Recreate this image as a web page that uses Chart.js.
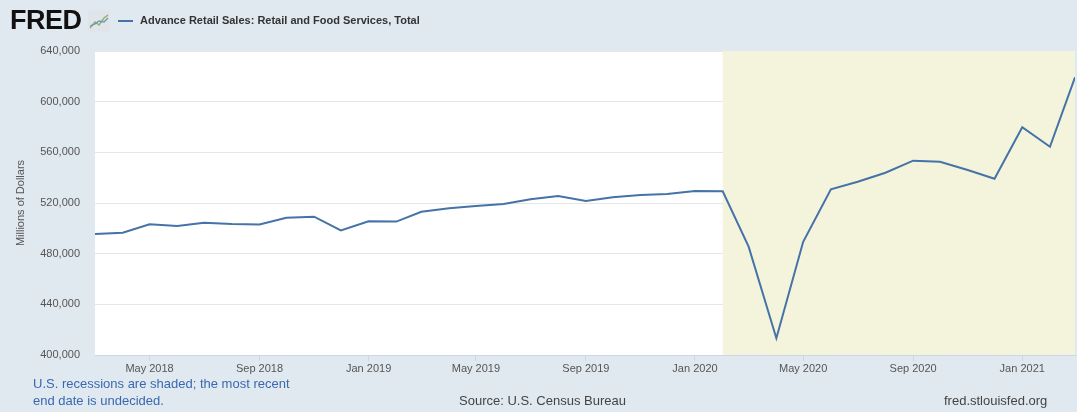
<!DOCTYPE html>
<html>
<head>
<meta charset="utf-8">
<script src="https://cdn.jsdelivr.net/npm/chart.js@4/dist/chart.umd.min.js"></script>
<style>
  body { margin: 0; background: #e1e9f0; font-family: "Liberation Sans", Arial, sans-serif; }
  #wrap { position: relative; width: 1077px; height: 412px; overflow: hidden; }
  canvas { position: absolute; left: 0; top: 0; }
  .txt { position: absolute; white-space: nowrap; }
  #logo { left: 10px; top: 5px; font-size: 27px; font-weight: bold; letter-spacing: -0.5px; color: #111; }
  #icon { left: 88px; top: 10px; }
  #legline { left: 118px; top: 20px; width: 15px; height: 2px; background: #4572a7; }
  #legtxt { left: 140px; top: 14px; font-size: 11px; font-weight: bold; color: #333; }
  .foot { font-size: 13px; }
  #rec1 { left: 33px; top: 376px; color: #3a68b0; }
  #rec2 { left: 33px; top: 393px; color: #3a68b0; }
  #src { left: 459px; top: 393px; color: #444; }
  #site { left: 944px; top: 393px; color: #444; }
</style>
</head>
<body>
<div id="wrap">
  <canvas id="chart" width="1077" height="412"></canvas>
  <div class="txt" id="logo">FRED</div>
  <svg class="txt" id="icon" width="22" height="22">
    <rect x="0" y="0" width="22" height="22" rx="2" fill="#dfe5ea"/>
    <polyline points="2,18 7,12 11,15 16,8 20,5" fill="none" stroke="#8fb36b" stroke-width="1.5"/>
    <polyline points="2,16 7,14 11,11 16,12 20,8" fill="none" stroke="#6f8fb8" stroke-width="1.2"/>
  </svg>
  <div class="txt" id="legline"></div>
  <div class="txt" id="legtxt">Advance Retail Sales: Retail and Food Services, Total</div>
  <div class="txt foot" id="rec1">U.S. recessions are shaded; the most recent</div>
  <div class="txt foot" id="rec2">end date is undecided.</div>
  <div class="txt foot" id="src">Source: U.S. Census Bureau</div>
  <div class="txt foot" id="site">fred.stlouisfed.org</div>
</div>
<script>
// =============================
// DATOS
// =============================
// meses: Mar 2018 .. Mar 2021
const meses = [
  "2018-03", "2018-04", "2018-05", "2018-06", "2018-07", "2018-08", "2018-09",
  "2018-10", "2018-11", "2018-12", "2019-01", "2019-02", "2019-03", "2019-04",
  "2019-05", "2019-06", "2019-07", "2019-08", "2019-09", "2019-10", "2019-11",
  "2019-12", "2020-01", "2020-02", "2020-03", "2020-04", "2020-05", "2020-06",
  "2020-07", "2020-08", "2020-09", "2020-10", "2020-11", "2020-12", "2021-01",
  "2021-02", "2021-03"
];

const ventas = [
  495500, 496600, 503200, 501800, 504500, 503400, 503100,
  508400, 509200, 498300, 505500, 505300, 513100, 515800,
  517600, 519200, 522900, 525500, 521600, 524500, 526300,
  527100, 529500, 529200, 485500, 413200, 489400, 530800,
  536800, 543900, 553400, 552600, 546000, 539200, 579800,
  564400, 619200
];

const tickMeses = [
  "2018-05", "2018-09", "2019-01", "2019-05", "2019-09",
  "2020-01", "2020-05", "2020-09", "2021-01"
];

const recesionInicio = "2020-02";
const yTicks = [400000, 440000, 480000, 520000, 560000, 600000, 640000];

const nombresMes = ["Jan", "Feb", "Mar", "Apr", "May", "Jun",
  "Jul", "Aug", "Sep", "Oct", "Nov", "Dec"];

function aFecha(s) {
  const [a, m] = s.split("-").map(Number);
  return Date.UTC(a, m - 1, 1);
}

function etiqueta(v) {
  const d = new Date(v);
  return nombresMes[d.getUTCMonth()] + " " + d.getUTCFullYear();
}

// =============================
// SOMBRA RECESION
// =============================
const sombraRecesion = {
  id: "sombraRecesion",
  beforeDatasetsDraw(chart) {
    const { ctx, chartArea, scales } = chart;
    const x0 = scales.x.getPixelForValue(aFecha(recesionInicio));
    ctx.save();
    ctx.fillStyle = "#f4f4dd";
    ctx.fillRect(x0, chartArea.top, chartArea.right - x0, chartArea.bottom - chartArea.top);
    ctx.restore();
  }
};

const fondoBlanco = {
  id: "fondoBlanco",
  beforeDraw(chart) {
    const { ctx, chartArea } = chart;
    ctx.save();
    ctx.fillStyle = "#ffffff";
    ctx.fillRect(chartArea.left, chartArea.top, chartArea.right - chartArea.left, chartArea.bottom - chartArea.top);
    ctx.restore();
  }
};

// =============================
// GRAFICO
// =============================
new Chart(document.getElementById("chart"), {
  type: "line",
  data: {
    datasets: [{
      data: meses.map((m, i) => ({ x: aFecha(m), y: ventas[i] })),
      borderColor: "#4572a7",
      borderWidth: 2,
      pointRadius: 0,
      tension: 0,
      fill: false
    }]
  },
  options: {
    responsive: false,
    animation: false,
    layout: { padding: { top: 51, right: 2, left: 0, bottom: 0 } },
    plugins: {
      legend: { display: false },
      tooltip: { enabled: false }
    },
    scales: {
      x: {
        type: "linear",
        min: aFecha(meses[0]),
        max: aFecha(meses[meses.length - 1]),
        afterBuildTicks(scale) {
          scale.ticks = tickMeses.map(m => ({ value: aFecha(m) }));
        },
        afterFit(scale) { scale.height = 57; },
        ticks: {
          callback: v => etiqueta(v),
          color: "#555",
          font: { family: "Liberation Sans", size: 11 },
          padding: 1,
          maxRotation: 0,
          autoSkip: false
        },
        grid: {
          drawOnChartArea: false,
          drawTicks: true,
          tickLength: 6,
          color: "#ccd6eb"
        },
        border: { display: true, color: "#ccd6eb" }
      },
      y: {
        min: 400000,
        max: 640000,
        afterBuildTicks(scale) {
          scale.ticks = yTicks.map(v => ({ value: v }));
        },
        afterFit(scale) { scale.width = 95; },
        ticks: {
          callback: v => v.toLocaleString("en-US"),
          color: "#555",
          font: { family: "Liberation Sans", size: 11 },
          padding: 15
        },
        grid: { color: "#e6e6e6", drawTicks: false },
        border: { display: false },
        title: {
          display: true,
          text: "Millions of Dollars",
          color: "#555",
          font: { family: "Liberation Sans", size: 11 },
          padding: { top: 14, bottom: 0 }
        }
      }
    }
  },
  plugins: [fondoBlanco, sombraRecesion]
});
</script>
</body>
</html>
